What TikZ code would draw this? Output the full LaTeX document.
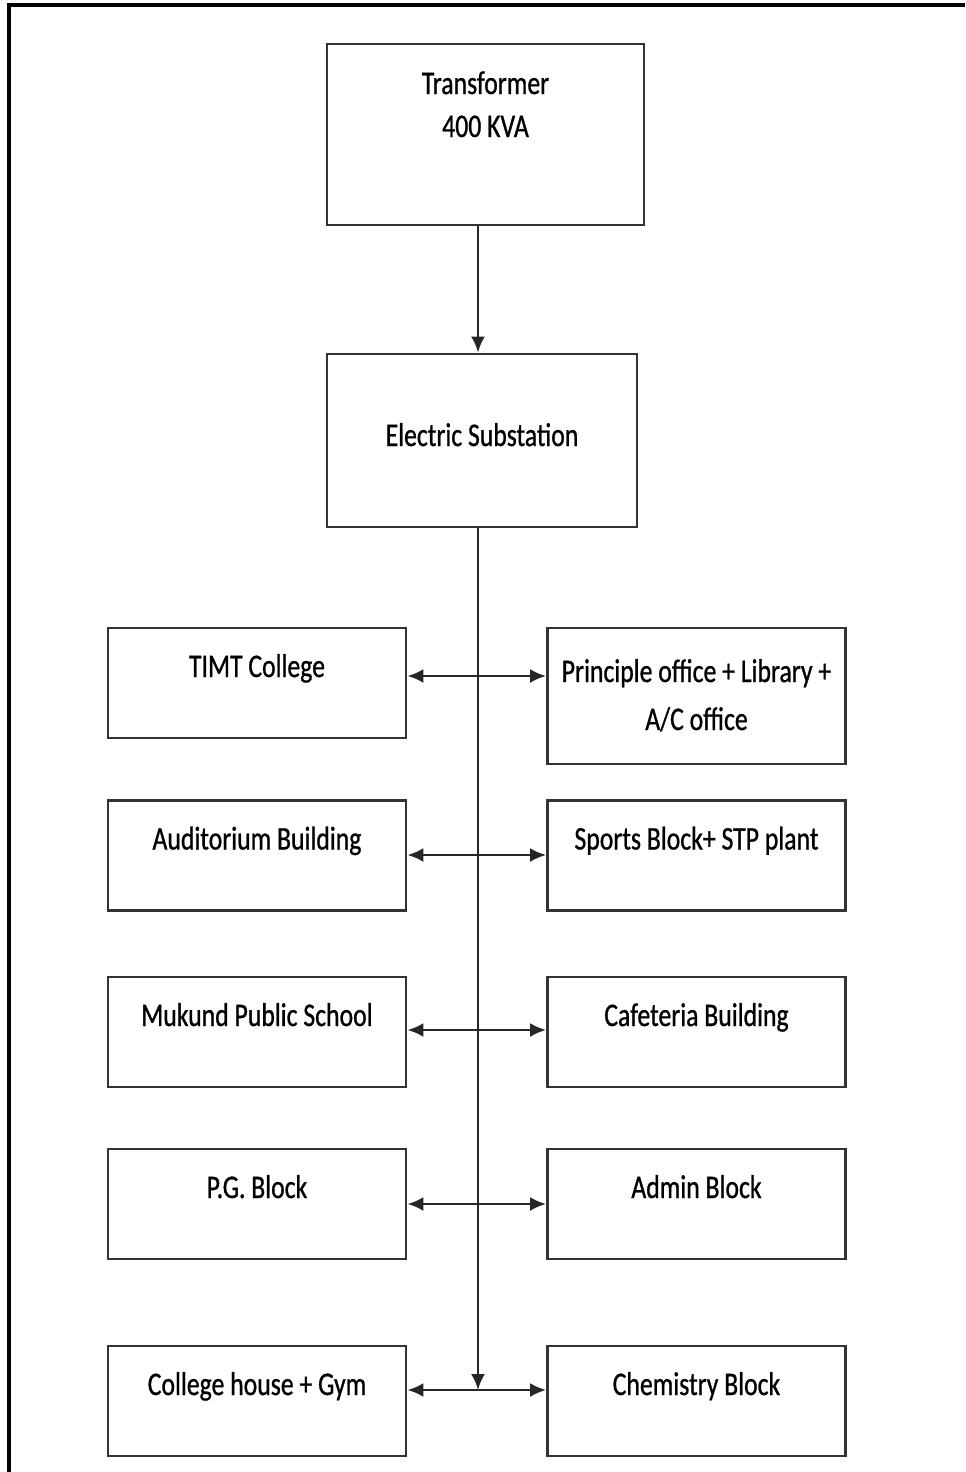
\documentclass[tikz,border=0pt]{standalone}
\usepackage{fontspec}
\setmainfont{Carlito}[FakeStretch=0.78, FakeBold=0.8]
\usetikzlibrary{arrows.meta}

\begin{document}
\begin{tikzpicture}[
        x=0.5pt, y=-0.5pt,
        >={Latex[length=8pt,width=7pt]},
        every node/.style={draw=black!80, line width=1.4pt, rectangle, align=center, inner sep=0pt,
            font=\fontsize{16.5}{21.5}\selectfont},
        block/.style={minimum width=149pt, text height=24.5pt, text depth=30.5pt},
        feed/.style={line width=1.3pt, draw=black!85}
    ]
        \useasboundingbox (0,0) rectangle (965,1472);
        \draw[line width=2pt] (965,5) -- (9,5) -- (9,1472);

        \node (trans) [minimum width=158.5pt, text height=46.5pt, text depth=44pt] at (485.5,134.5) {Transformer\\400 KVA};
        \node (subst) [minimum width=155pt, text height=46pt, text depth=40.5pt] at (482,440.5) {Electric Substation};

        \node (timt) [block] at (257,683) {TIMT College};
        \node (prin) [block, text height=51pt, text depth=17pt] at (696.5,696) {Principle office + Library +\\[2.5pt]A/C office};
        \node (audi) [block] at (257,855.5) {Auditorium Building};
        \node (sport) [block] at (696.5,855.5) {Sports Block+ STP plant};
        \node (school) [block] at (257,1032) {Mukund Public School};
        \node (cafe) [block] at (696.5,1032) {Cafeteria Building};
        \node (pg) [block] at (257,1204) {P.G. Block};
        \node (admin) [block] at (696.5,1204) {Admin Block};
        \node (house) [block] at (257,1401) {College house + Gym};
        \node (chem) [block] at (696.5,1401) {Chemistry Block};

        % junctions on the feeder line
        \coordinate (j1) at (478,676);
        \coordinate (j2) at (478,855);
        \coordinate (j3) at (478,1030);
        \coordinate (j4) at (478,1204);
        \coordinate (j5) at (478,1390);

        \draw[->, feed] (j1 |- trans.south) -- (j1 |- subst.north);
        \draw[->, feed] (j1 |- subst.south) -- (j5);

        \draw[<->, feed] (timt.east |- j1) -- (prin.west |- j1);
        \draw[<->, feed] (audi.east |- j2) -- (sport.west |- j2);
        \draw[<->, feed] (school.east |- j3) -- (cafe.west |- j3);
        \draw[<->, feed] (pg.east |- j4) -- (admin.west |- j4);
        \draw[<->, feed] (house.east |- j5) -- (chem.west |- j5);
    \end{tikzpicture}
\end{document}
